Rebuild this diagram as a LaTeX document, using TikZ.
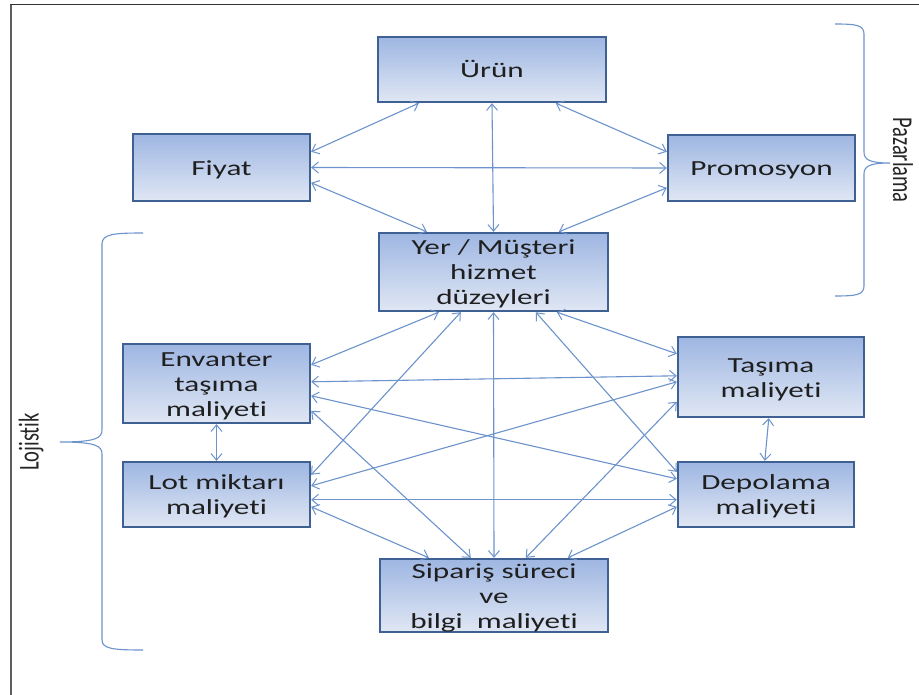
\documentclass[tikz,border=0pt]{standalone}
\usepackage{fontspec}
\setmainfont{Carlito}[Ligatures={NoCommon,NoRequired,NoContextual}]
\usetikzlibrary{arrows.meta}
\definecolor{boxtop}{RGB}{158,182,226}
\definecolor{boxbot}{RGB}{224,231,244}
\definecolor{boxedge}{RGB}{62,96,146}
\definecolor{link}{RGB}{108,147,204}
\definecolor{framegray}{RGB}{95,95,95}
% stretched, centred multi-line box label, set a little below the box centre
\newcommand\btext[1]{\raisebox{-8pt}[0pt][0pt]{\scalebox{1.45}[1]{\begin{tabular}{@{}c@{}}#1\end{tabular}}}}
\newcommand\sidelabel[2]{\scalebox{1.4}[1]{\rotatebox{#1}{#2}}}
\begin{document}
\begin{tikzpicture}[x=1pt,y=-1pt,
  blk/.style={rectangle, draw=boxedge, line width=2.4pt, top color=boxtop,
    bottom color=boxbot, inner sep=0pt, text=black!88,
    font=\fontsize{21.5}{25}\selectfont},
  link/.style={draw=link, line width=1.1pt,
    {Straight Barb[length=6.5pt,width=11pt,line width=1pt]}-{Straight Barb[length=6.5pt,width=11pt,line width=1pt]}},
  brace/.style={draw=link, line width=1.1pt},
  side/.style={font=\fontsize{20.5}{24}\selectfont, text=black!85, inner sep=0pt}]
\useasboundingbox (0,0) rectangle (919,695);
\fill[white] (0,0) rectangle (919,695);
% frame
\draw[framegray, line width=2pt] (11,4) -- (11,695);
\draw[black!80, line width=1.5pt] (10,4.5) -- (919,4.5);

% boxes
\node[blk, minimum width=228, minimum height=65] (uru) at (492,69.5) {\btext{Ürün}};
\node[blk, minimum width=177, minimum height=67] (fiy) at (221.5,167.5) {\btext{Fiyat}};
\node[blk, minimum width=187, minimum height=66] (pro) at (761.5,168) {\btext{Promosyon}};
\node[blk, minimum width=229, minimum height=78] (yer) at (493.5,272) {\btext{Yer / Müşteri\\hizmet\\düzeyleri}};
\node[blk, minimum width=187, minimum height=79] (env) at (216.5,383.5) {\btext{Envanter\\taşıma\\maliyeti}};
\node[blk, minimum width=187, minimum height=65] (lot) at (216.5,494.5) {\btext{Lot miktarı\\maliyeti}};
\node[blk, minimum width=186, minimum height=80] (tas) at (771,377) {\btext{Taşıma\\maliyeti}};
\node[blk, minimum width=176, minimum height=65] (dep) at (766,494.5) {\btext{Depolama\\maliyeti}};
\node[blk, minimum width=228, minimum height=73] (sip) at (494,595.5) {\btext{Sipariş süreci\\ve\\bilgi\ \ maliyeti}};

% marketing links
\draw[link] ([xshift=42pt]uru.south west) -- ([yshift=-19pt]fiy.north east);
\draw[link] (fiy.east) -- (pro.west);
\draw[link] ([yshift=-50pt]fiy.north east) -- ([xshift=49pt]yer.north west);
\draw[link] (uru.south) -- (yer.north);
\draw[link] ([xshift=179pt]uru.south west) -- ([yshift=-18pt]pro.north west);
\draw[link] ([yshift=-54pt]pro.north west) -- ([xshift=181pt]yer.north west);

% logistics links
\draw[link] ([xshift=61pt]yer.south west) -- ([yshift=-22pt]env.north east);
\draw[link] ([xshift=83pt]yer.south west) -- ([yshift=-14pt]lot.north east);
\draw[link] (yer.south) -- (sip.north);
\draw[link] ([xshift=158pt]yer.south west) -- ([yshift=-11pt]dep.north west);
\draw[link] ([xshift=179pt]yer.south west) -- ([yshift=-18pt]tas.north west);
\draw[link] ([yshift=-39pt]env.north east) -- ([yshift=-40pt]tas.north west);
\draw[link] ([yshift=-53pt]env.north east) -- ([yshift=-18pt]dep.north west);
\draw[link] ([yshift=-68pt]env.north east) -- ([xshift=92pt]sip.north west);
\draw[link] ([yshift=-25pt]lot.north east) -- ([yshift=-46pt]tas.north west);
\draw[link] ([yshift=-39pt]lot.north east) -- ([yshift=-39pt]dep.north west);
\draw[link] ([yshift=-46pt]lot.north east) -- ([xshift=50pt]sip.north west);
\draw[link] ([yshift=-66pt]tas.north west) -- ([xshift=147pt]sip.north west);
\draw[link] ([yshift=-46pt]dep.north west) -- ([xshift=189pt]sip.north west);
\draw[link] (env.south) -- (lot.north);
\draw[link] ([xshift=92pt]tas.south west) -- ([xshift=88pt]dep.north west);

% braces
\draw[brace] (835,24) .. controls (856,24) and (864,25) .. (864,34)
  -- (864,152) .. controls (864,160) and (870,163) .. (890,163)
  .. controls (870,163) and (864,166) .. (864,174)
  -- (864,286) .. controls (864,295) and (856,296) .. (835,296);
\draw[brace] (143,233) .. controls (114,233) and (102,234) .. (102,244)
  -- (102,430) .. controls (102,438) and (96,442) .. (60,442)
  .. controls (96,442) and (102,446) .. (102,454)
  -- (102,640) .. controls (102,649) and (114,650) .. (143,650);

% group labels
\node[side] (mkt) at (903,160) {\sidelabel{-90}{Pazarlama}};
\node[side] (lgs) at (31,442) {\sidelabel{90}{Lojistik}};
\end{tikzpicture}
\end{document}
